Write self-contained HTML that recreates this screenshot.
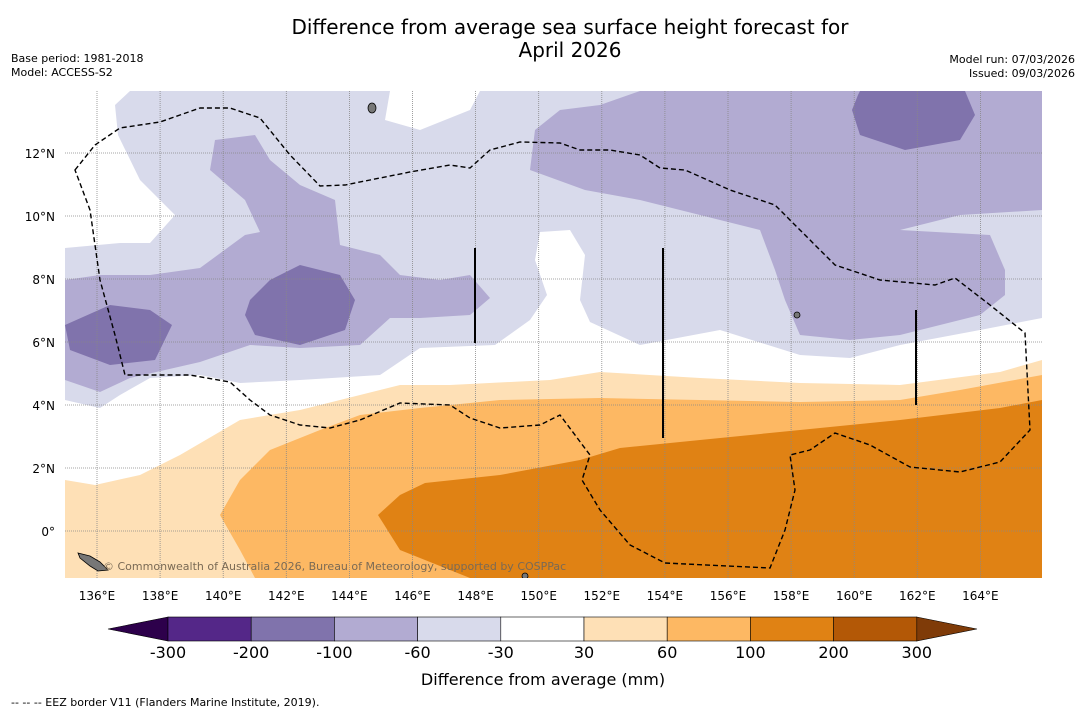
<!DOCTYPE html>
<html><head><meta charset="utf-8"><style>
body{margin:0;background:#fff;width:1085px;height:713px;overflow:hidden;font-family:"DejaVu Sans","Liberation Sans",sans-serif}
svg text{font-family:"DejaVu Sans","Liberation Sans",sans-serif}
</style></head><body>
<svg width="1085" height="713">
<text x="570" y="34" text-anchor="middle" font-size="20">Difference from average sea surface height forecast for</text>
<text x="570" y="57" text-anchor="middle" font-size="20">April 2026</text>
<text x="11" y="62" font-size="11">Base period: 1981-2018</text>
<text x="11" y="76" font-size="11">Model: ACCESS-S2</text>
<text x="1075" y="63" font-size="11" text-anchor="end">Model run: 07/03/2026</text>
<text x="1075" y="77" font-size="11" text-anchor="end">Issued: 09/03/2026</text>
<defs><clipPath id="mc"><rect x="65" y="91" width="977" height="487"/></clipPath></defs>
<g clip-path="url(#mc)">
<rect x="65" y="91" width="977" height="487" fill="#fff"/>
<path fill="#d8daeb" d="M65,248 L120,243 L150,243 L175,215 L140,180 L118,135 L115,105 L130,91 L390,91 L385,120 L420,130 L470,110 L480,91 L1042,91 L1042,318 L980,330 L900,345 L850,358 L800,355 L720,330 L640,345 L590,322 L580,300 L585,255 L570,230 L540,232 L535,260 L547,295 L530,320 L495,345 L420,348 L380,375 L300,380 L240,383 L200,375 L150,378 L120,395 L100,408 L65,400 Z"/>
<path fill="#b2abd2" d="M65,280 L100,275 L150,275 L200,268 L245,235 L260,232 L245,200 L210,170 L215,140 L255,135 L270,160 L300,185 L335,200 L340,245 L380,255 L400,275 L440,280 L470,275 L490,298 L470,315 L420,318 L390,318 L360,345 L300,348 L250,345 L200,362 L165,370 L130,378 L100,392 L65,380 Z"/>
<path fill="#b2abd2" d="M640,91 L1042,91 L1042,210 L960,215 L900,230 L990,235 L1005,270 L1005,295 L980,315 L900,335 L850,340 L800,335 L785,300 L775,270 L760,230 L700,215 L640,200 L585,190 L530,170 L535,130 L560,110 L600,105 Z"/>
<path fill="#8073ac" d="M65,325 L110,305 L150,310 L172,325 L155,360 L110,365 L70,350 Z"/>
<path fill="#8073ac" d="M250,300 L270,280 L300,265 L340,275 L355,300 L345,330 L300,345 L255,335 L245,315 Z"/>
<path fill="#8073ac" d="M858,95 L860,91 L965,91 L975,115 L960,140 L905,150 L860,135 L852,110 Z"/>
<path fill="#fee0b6" d="M65,480 L95,485 L140,475 L180,455 L240,420 L300,410 L360,395 L400,385 L450,385 L550,380 L600,372 L700,378 L800,383 L900,385 L1000,372 L1042,360 L1042,578 L65,578 Z"/>
<path fill="#fdb863" d="M220,515 L240,480 L270,450 L320,430 L360,415 L420,408 L500,400 L600,398 L700,400 L800,402 L900,400 L960,390 L1042,375 L1042,578 L255,578 L240,550 Z"/>
<path fill="#e08214" d="M378,515 L400,495 L425,483 L500,475 L580,460 L620,448 L700,440 L800,430 L900,420 L1000,408 L1042,400 L1042,578 L470,578 L400,550 Z"/>
<g id="grid" stroke="#888" stroke-width="0.8" stroke-dasharray="1,1"></g>
<path fill="none" stroke="#000" stroke-width="1.4" stroke-dasharray="5,3" d="M75,170 L95,145 L120,128 L160,122 L200,108 L230,108 L260,118 L290,155 L320,186 L345,185 L370,180 L410,172 L450,165 L470,168 L490,150 L520,142 L560,143 L580,150 L610,150 L640,155 L660,168 L685,170 L730,190 L775,205 L800,230 L835,265 L880,280 L935,285 L955,278 L990,305 L1025,333 L1030,430 L1000,462 L960,472 L910,467 L870,445 L835,433 L810,450 L790,455 L795,490 L785,530 L770,568 L665,563 L630,545 L600,510 L582,480 L590,455 L560,415 L540,425 L500,428 L470,418 L450,405 L400,403 L360,420 L330,428 L300,425 L270,415 L250,400 L230,382 L190,375 L160,375 L125,375 L115,335 L100,280 L90,210 Z"/>
<g stroke="#000" stroke-width="2">
<line x1="475" y1="248" x2="475" y2="343"/><line x1="663" y1="248" x2="663" y2="438"/><line x1="916" y1="310" x2="916" y2="405"/></g>
<g fill="#777" stroke="#000" stroke-width="0.8">
<path d="M78,553 L90,556 L100,562 L108,570 L98,571 L90,566 L80,558 Z"/><ellipse cx="372" cy="108" rx="4" ry="5"/><ellipse cx="797" cy="315" rx="3" ry="3"/><ellipse cx="525" cy="576" rx="3" ry="3"/></g>
<text x="103" y="570" font-size="11" fill="#7a6a55">© Commonwealth of Australia 2026, Bureau of Meteorology, supported by COSPPac</text>
</g>
<g id="ticks" font-size="12"></g>
<g id="cbar"></g>
<text x="543" y="685" text-anchor="middle" font-size="16">Difference from average (mm)</text>
<text x="11" y="706" font-size="11">--  --  -- EEZ border V11 (Flanders Marine Institute, 2019).</text>
</svg>
<script>
const lonTicks=[136,138,140,142,144,146,148,150,152,154,156,158,160,162,164];
const latTicks=[0,2,4,6,8,10,12];
const cbLevels=[-300,-200,-100,-60,-30,30,60,100,200,300];
const cbColors=['#542788','#8073ac','#b2abd2','#d8daeb','#ffffff','#fee0b6','#fdb863','#e08214','#b35806'];
const cbExt=['#2d004b','#7f3b08'];
const NS='http://www.w3.org/2000/svg';
const x=l=>97+(l-136)*31.55, y=l=>531-l*31.5;
function mk(t,a,p){const e=document.createElementNS(NS,t);for(const k in a)e.setAttribute(k,a[k]);p.appendChild(e);return e;}
const g=document.getElementById('grid'),tk=document.getElementById('ticks');
lonTicks.forEach(l=>{const ln=mk('line',{x1:x(l),x2:x(l),y1:91,y2:578},g);

const t=mk('text',{x:x(l),y:600,'text-anchor':'middle'},tk);t.textContent=l+'°E';
});
latTicks.forEach(l=>{const ln=mk('line',{x1:65,x2:1042,y1:y(l),y2:y(l)},g);

const t=mk('text',{x:55,y:y(l)+5,'text-anchor':'end'},tk);t.textContent=l===0?'0°':l+'°N';
});
const cb=document.getElementById('cbar');const cx0=168,cw=83.2,cy=617,ch=24;
const tl=mk('path',{d:`M${cx0},${cy} L108,${cy+ch/2} L${cx0},${cy+ch} Z`,fill:cbExt[0],stroke:'#000','stroke-width':0.6},cb);

cbColors.forEach((c,i)=>{const r=mk('rect',{x:cx0+i*cw,y:cy,width:cw,height:ch,fill:c,stroke:'#000','stroke-width':0.6},cb);
});
const xe=cx0+cbColors.length*cw;
const tr=mk('path',{d:`M${xe},${cy} L977,${cy+ch/2} L${xe},${cy+ch} Z`,fill:cbExt[1],stroke:'#000','stroke-width':0.6},cb);

cbLevels.forEach((v,i)=>{const t=mk('text',{x:cx0+i*cw,y:658,'text-anchor':'middle','font-size':16},cb);t.textContent=v;
});
</script>
</body></html>
